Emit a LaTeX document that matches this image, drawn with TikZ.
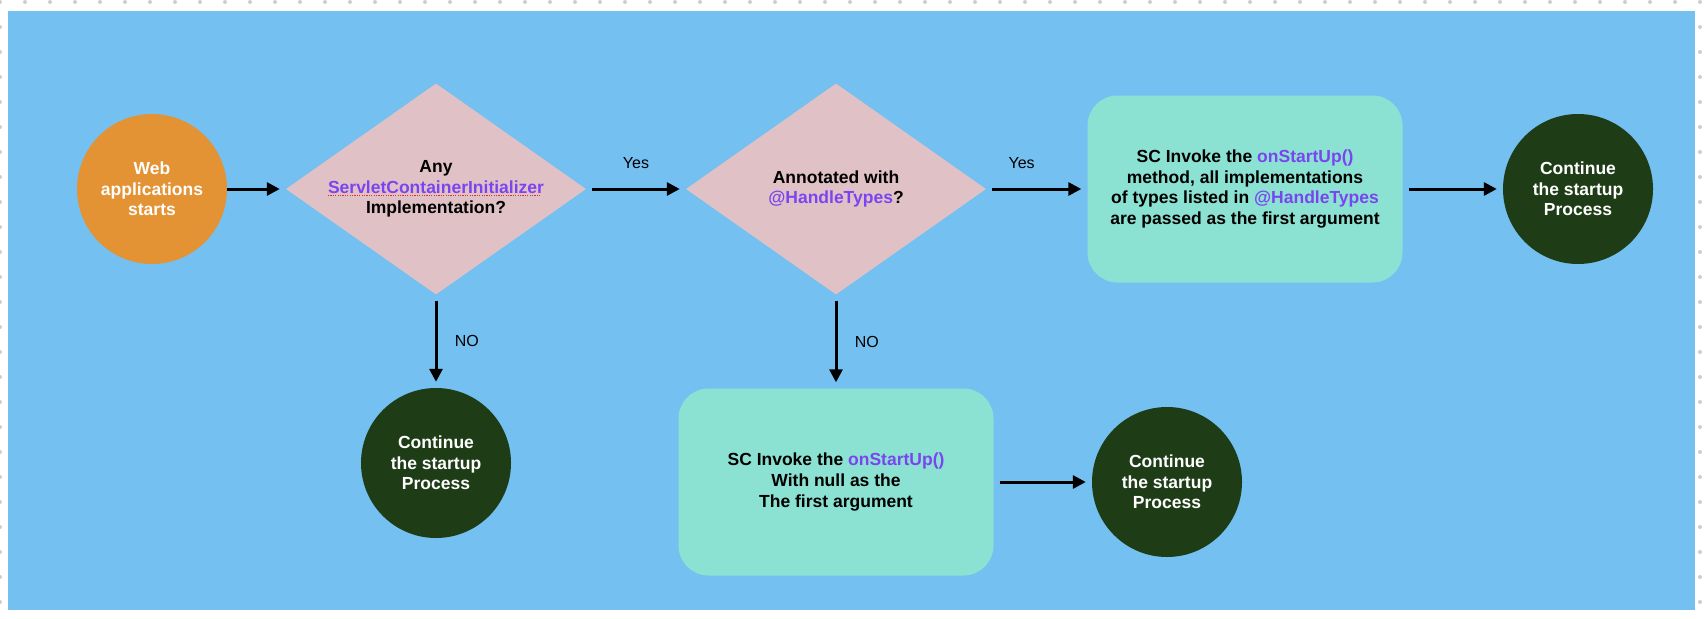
\documentclass[tikz,border=0pt]{standalone}
\usepackage{fontspec}
\setmainfont{Liberation Sans}
\usetikzlibrary{shapes.geometric,arrows.meta,positioning}
\definecolor{canvas}{RGB}{116,192,240}
\definecolor{startorange}{RGB}{227,147,52}
\definecolor{decisionpink}{RGB}{224,194,198}
\definecolor{actionmint}{RGB}{140,226,210}
\definecolor{endgreen}{RGB}{30,61,23}
\definecolor{codepurple}{RGB}{122,68,240}
\definecolor{spellred}{RGB}{225,45,45}
\definecolor{griddot}{RGB}{205,205,205}
\newcommand{\code}[1]{\textcolor{codepurple}{#1}}
\newsavebox{\spellbox}
\newcommand{\spellchk}[1]{\sbox{\spellbox}{#1}\rlap{\lower3pt\hbox to\wd\spellbox{\color{spellred}\leaders\hbox{\rule{1.2pt}{1.2pt}\kern1.2pt}\hfill}}\usebox{\spellbox}}

\begin{document}
\begin{tikzpicture}[x=1pt,y=-1pt,node distance=100pt,on grid,
    every node/.style={font=\fontsize{16}{20}\selectfont},
    terminal/.style={circle,minimum size=150pt,inner sep=0pt,align=center,text=white,
        font=\bfseries\fontsize{17.5}{20.7}\selectfont},
    decision/.style={diamond,aspect=1.42,fill=decisionpink,minimum width=300pt,
        minimum height=211pt,inner sep=0pt,align=center,font=\bfseries\fontsize{17.5}{20.7}\selectfont},
    action/.style={rectangle,rounded corners=30pt,fill=actionmint,minimum width=315pt,
        minimum height=187pt,align=center,font=\bfseries\fontsize{17.5}{20.7}\selectfont},
    flow/.style={draw=black,line width=3pt,-{Triangle[length=13pt,width=13pt]},
        shorten >=6pt,shorten <=6pt}]

        \useasboundingbox (0,0) rectangle (1704,618);
        \foreach \gx in {0,25,...,1700} \fill[griddot] (\gx,2) circle (2pt);
        \foreach \gy in {27,52,...,602} {
            \fill[griddot] (0,\gy) circle (2pt);
            \fill[griddot] (1700,\gy) circle (2pt);
        }
        \fill[canvas] (8,11) rectangle (1695,610);

        \node[terminal, fill=startorange] (start)      at (152,189)            {Web\\applications\\starts};
        \node[decision]                   (anyinit)    [right=284pt of start]  {Any\\\code{\spellchk{ServletContainerInitializer}}\\Implementation?};
        \node[decision]                   (annotated)  [right=400pt of anyinit] {Annotated with\\\code{@HandleTypes}?};
        \node[action]                     (invokeall)  [right=409pt of annotated] {SC Invoke the \code{onStartUp()}\\method, all implementations\\of types listed in \code{@HandleTypes}\\are passed as the first argument};
        \node[terminal, fill=endgreen]    (contall)    [right=333pt of invokeall] {Continue\\the startup\\Process};
        \node[terminal, fill=endgreen]    (contnone)   [below=274pt of anyinit] {Continue\\the startup\\Process};
        \node[action]                     (invokenull) [below=293pt of annotated] {SC Invoke the \code{onStartUp()}\\With null as the\\The first argument};
        \node[terminal, fill=endgreen]    (contnull)   [right=331pt of invokenull] {Continue\\the startup\\Process};

        \path[flow]
        (start)
        edge [shorten <=0pt]                     (anyinit)

        (anyinit)
        edge node[above=16pt]           {Yes}    (annotated)
        edge node[right=14pt]           {NO}     (contnone)

        (annotated)
        edge node[pos=0.35,above=16pt]  {Yes}    (invokeall)
        edge node[right=14pt]           {NO}     (invokenull)

        (invokeall)
        edge                                     (contall)

        (invokenull)
        edge                                     (contnull);

    \end{tikzpicture}
\end{document}
